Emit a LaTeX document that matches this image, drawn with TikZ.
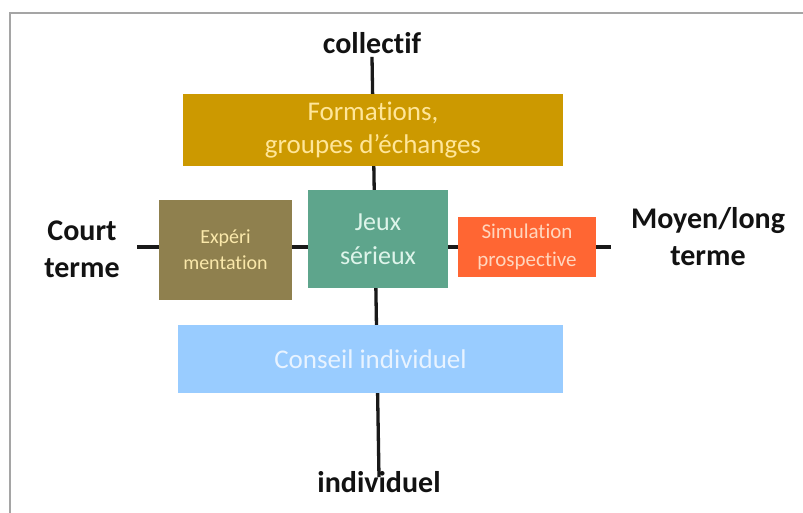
\documentclass[tikz,border=0pt]{standalone}
\usepackage{fontspec}
\setmainfont[Ligatures={NoCommon,NoRare,NoContextual},RawFeature={-liga;-dlig;-clig}]{Carlito}
\usetikzlibrary{backgrounds}
\definecolor{cFormFill}{RGB}{204,153,0}
\definecolor{cFormText}{RGB}{255,230,153}
\definecolor{cJeuxFill}{RGB}{94,165,140}
\definecolor{cJeuxText}{RGB}{222,244,234}
\definecolor{cExpFill}{RGB}{143,128,78}
\definecolor{cExpText}{RGB}{250,232,170}
\definecolor{cSimFill}{RGB}{255,102,51}
\definecolor{cSimText}{RGB}{255,214,190}
\definecolor{cConsFill}{RGB}{153,204,255}
\definecolor{cConsText}{RGB}{232,243,255}
\definecolor{cFrame}{RGB}{165,165,165}
\tikzset{
  x=1pt, y=-1pt,
  boxnode/.style={rectangle, inner sep=0pt, align=center},
  axislabel/.style={inner sep=0pt, align=center, font=\fontsize{30}{37}\selectfont\bfseries, text=black!93},
  axisline/.style={line width=3.3pt, black!90},
}
\begin{document}
\begin{tikzpicture}
\useasboundingbox (0,0) rectangle (803,513);
% frame
\draw[cFrame, line width=1.8pt] (10,513) -- (10,13) -- (803,13);

% axis labels
\node[axislabel] (collectif) at (372,43) {collectif};
\node[axislabel] (individuel) at (379,482) {individuel};
\node[axislabel] (court) at (82,249) {Court\\terme};
\node[axislabel] (moyen) at (708,237) {Moyen/long\\terme};

% boxes
\node[boxnode, fill=cFormFill, minimum width=380pt, minimum height=72pt,
  text=cFormText, font=\fontsize{27}{33}\selectfont] (form) at (373,130)
  {Formations,\\groupes d’échanges};
\node[boxnode, fill=cJeuxFill, minimum width=140pt, minimum height=98pt,
  text=cJeuxText, font=\fontsize{26}{34}\selectfont] (jeux) at (378,239)
  {Jeux\\sérieux};
\node[boxnode, fill=cExpFill, minimum width=133pt, minimum height=100pt,
  text=cExpText, font=\fontsize{20}{26}\selectfont] (exp) at (225.5,250)
  {Expéri\\mentation};
\node[boxnode, fill=cSimFill, minimum width=138pt, minimum height=60pt,
  text=cSimText, font=\fontsize{21}{28}\selectfont] (sim) at (527,247)
  {Simulation\\prospective};
\node[boxnode, fill=cConsFill, minimum width=385pt, minimum height=68pt,
  text=cConsText, font=\fontsize{27}{33}\selectfont] (cons) at (370.5,359)
  {Conseil individuel};

\coordinate (hl) at (137,247);
\coordinate (hr) at (611,247);

\begin{scope}[on background layer]
  \draw[axisline] (collectif.south) ++(0,3) coordinate (vt) -- ([yshift=-6pt]individuel.north);
  \draw[axisline] (hl) -- (hr);
\end{scope}
\end{tikzpicture}
\end{document}
